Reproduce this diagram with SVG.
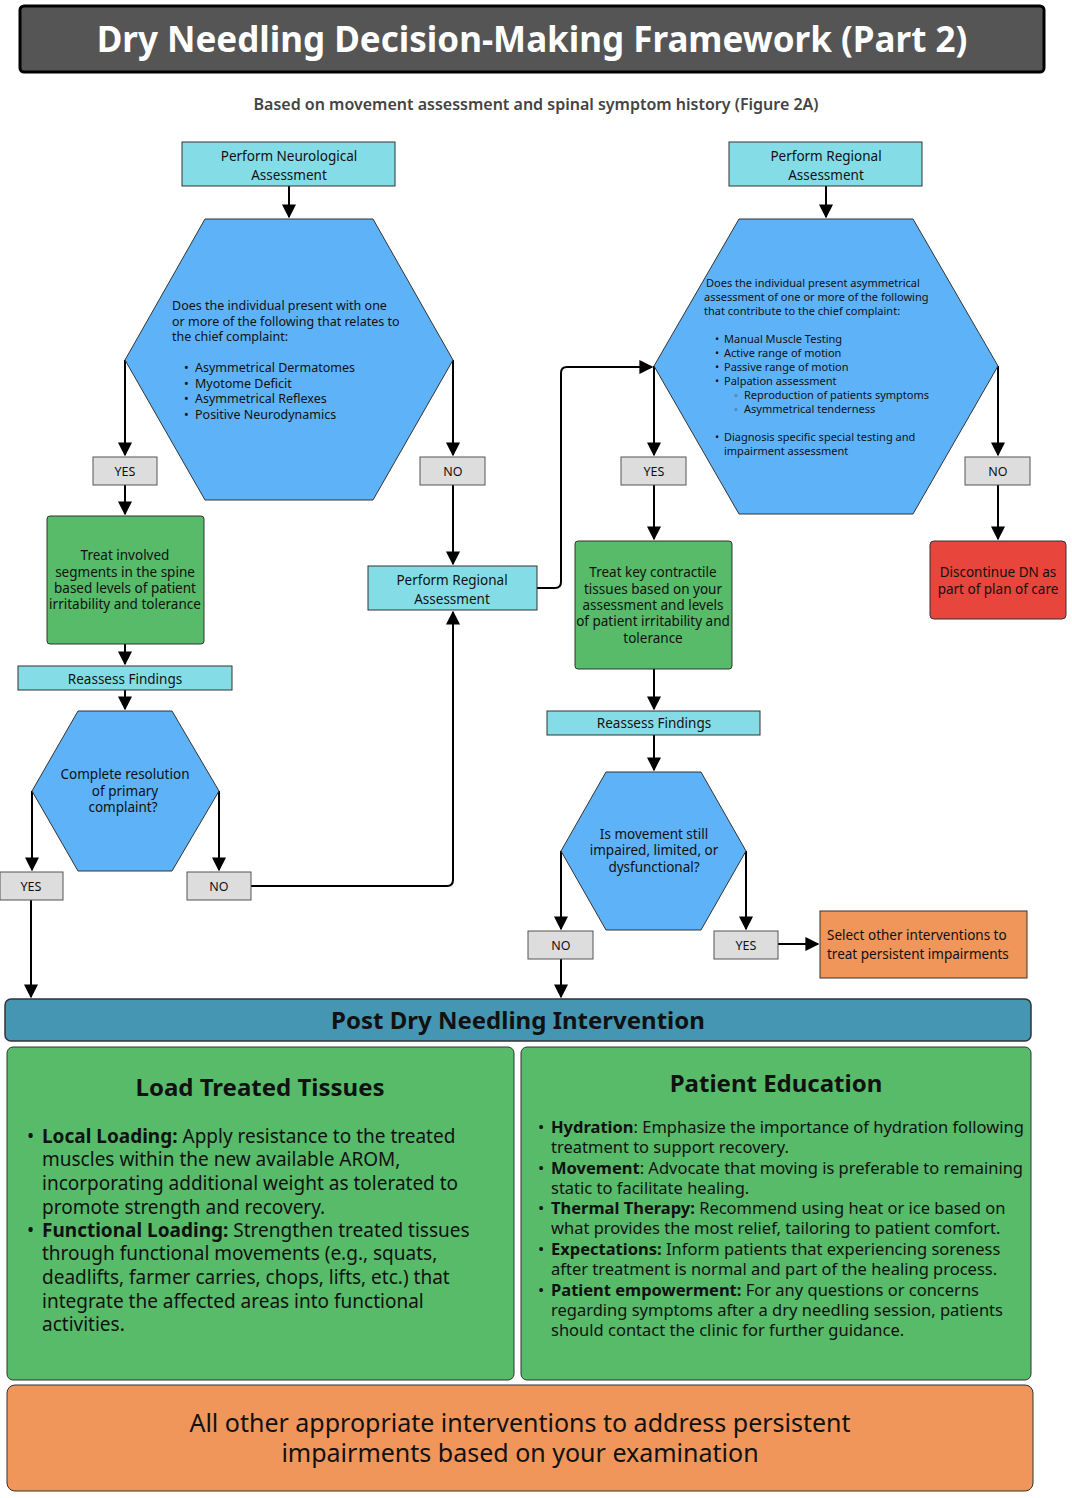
<svg xmlns="http://www.w3.org/2000/svg" width="1072" height="1498" viewBox="0 0 1072 1498">
<defs>
<marker id="ah" viewBox="0 0 10 10" refX="9" refY="5" markerWidth="7" markerHeight="7" orient="auto-start-reverse"><path d="M0,0 L10,5 L0,10 z" fill="#000"/></marker>
<style>
text{font-family:"Noto Sans","Liberation Sans",sans-serif;fill:#111}
.cy{fill:#84dde6;stroke:#333;stroke-width:1}
.hx{fill:#5eb3f8;stroke:#333;stroke-width:1}
.gr{fill:#57bb6a;stroke:#333;stroke-width:1}
.lb{fill:#dddddd;stroke:#555;stroke-width:1}
.c{stroke:#000;stroke-width:2;fill:none}
.a{marker-end:url(#ah)}
.s13{font-size:13.5px}
.s12{font-size:12.5px}
.s11{font-size:11px}
.m{text-anchor:middle}
</style>
</defs>
<rect x="0" y="0" width="1072" height="1498" fill="#fff"/>
<g id="title">
<rect x="20" y="6" width="1024" height="66" rx="4" fill="#555" stroke="#000" stroke-width="3"/>
<text x="532" y="52" class="m" style="font-size:35px;font-weight:bold;fill:#fff">Dry Needling Decision-Making Framework (Part 2)</text>
<text x="536" y="110" class="m" style="font-size:16px;font-weight:600;fill:#444">Based on movement assessment and spinal symptom history (Figure 2A)</text>
</g>
<g id="connectors">
<line class="c a" x1="289" y1="186" x2="289" y2="217"/>
<line class="c a" x1="125" y1="360" x2="125" y2="455"/>
<line class="c a" x1="453" y1="360" x2="453" y2="455"/>
<line class="c a" x1="125" y1="485" x2="125" y2="514"/>
<line class="c a" x1="125" y1="644" x2="125" y2="664"/>
<line class="c a" x1="125" y1="690" x2="125" y2="709"/>
<line class="c a" x1="32" y1="791" x2="32" y2="870"/>
<line class="c a" x1="219" y1="791" x2="219" y2="870"/>
<path class="c a" d="M251,886 H447 Q453,886 453,880 V612"/>
<line class="c a" x1="453" y1="485" x2="453" y2="564"/>
<path class="c a" d="M537,588 H555 Q561,588 561,582 V373 Q561,367 567,367 H652"/>
<line class="c a" x1="31" y1="900" x2="31" y2="997"/>
<line class="c a" x1="826" y1="186" x2="826" y2="217"/>
<line class="c a" x1="654" y1="366" x2="654" y2="455"/>
<line class="c a" x1="998" y1="366" x2="998" y2="455"/>
<line class="c a" x1="998" y1="485" x2="998" y2="539"/>
<line class="c a" x1="654" y1="485" x2="654" y2="539"/>
<line class="c a" x1="654" y1="669" x2="654" y2="709"/>
<line class="c a" x1="654" y1="735" x2="654" y2="770"/>
<line class="c a" x1="561" y1="851" x2="561" y2="929"/>
<line class="c a" x1="746" y1="851" x2="746" y2="929"/>
<line class="c a" x1="778" y1="944" x2="818" y2="944"/>
<line class="c a" x1="561" y1="959" x2="561" y2="997"/>
</g>
<g id="neuro"><rect class="cy" x="182" y="142" width="213" height="44"/><text class="s13 m" x="289" y="161">Perform Neurological</text><text class="s13 m" x="289" y="180">Assessment</text></g>
<g id="hexL"><polygon class="hx" points="205,219 373,219 453,360 373,500 205,500 125,360"/>
<text class="s12" x="172" y="310">Does the individual present with one</text>
<text class="s12" x="172" y="326">or more of the following that relates to</text>
<text class="s12" x="172" y="341">the chief complaint:</text>
<text class="s12" x="184" y="372">•</text><text class="s12" x="195" y="372">Asymmetrical Dermatomes</text>
<text class="s12" x="184" y="388">•</text><text class="s12" x="195" y="388">Myotome Deficit</text>
<text class="s12" x="184" y="403">•</text><text class="s12" x="195" y="403">Asymmetrical Reflexes</text>
<text class="s12" x="184" y="419">•</text><text class="s12" x="195" y="419">Positive Neurodynamics</text></g>
<g id="yes1"><rect class="lb" x="93" y="457" width="64" height="28"/><text class="s12 m" x="125" y="476">YES</text></g>
<g id="no1"><rect class="lb" x="420" y="457" width="65" height="28"/><text class="s12 m" x="453" y="476">NO</text></g>
<g id="treatSpine"><rect class="gr" x="47" y="516" width="157" height="128" rx="3"/>
<text class="s13 m" x="125" y="560">Treat involved</text><text class="s13 m" x="125" y="577">segments in the spine</text><text class="s13 m" x="125" y="593">based levels of patient</text><text class="s13 m" x="125" y="609">irritability and tolerance</text></g>
<g id="reassess1"><rect class="cy" x="18" y="666" width="214" height="24"/><text class="s13 m" x="125" y="684">Reassess Findings</text></g>
<g id="hexS"><polygon class="hx" points="78,711 172,711 219,791 172,871 78,871 32,791"/>
<text class="s13 m" x="125" y="779">Complete resolution</text><text class="s13 m" x="125" y="796">of primary</text><text class="s13 m" x="123" y="812">complaint?</text></g>
<g id="yes2"><rect class="lb" x="0" y="872" width="63" height="28"/><text class="s12 m" x="31" y="891">YES</text></g>
<g id="no2"><rect class="lb" x="187" y="872" width="64" height="28"/><text class="s12 m" x="219" y="891">NO</text></g>
<g id="regionalMid"><rect class="cy" x="368" y="566" width="169" height="44"/><text class="s13 m" x="452" y="585">Perform Regional</text><text class="s13 m" x="452" y="604">Assessment</text></g>
<g id="regionalTop"><rect class="cy" x="729" y="142" width="193" height="44"/><text class="s13 m" x="826" y="161">Perform Regional</text><text class="s13 m" x="826" y="180">Assessment</text></g>
<g id="hexR"><polygon class="hx" points="739,219 913,219 998,366 913,514 739,514 654,366"/>
<text class="s11" x="706" y="287">Does the individual present asymmetrical</text>
<text class="s11" x="704" y="301">assessment of one or more of the following</text>
<text class="s11" x="704" y="315">that contribute to the chief complaint:</text>
<text class="s11" x="715" y="343">•</text><text class="s11" x="724" y="343">Manual Muscle Testing</text>
<text class="s11" x="715" y="357">•</text><text class="s11" x="724" y="357">Active range of motion</text>
<text class="s11" x="715" y="371">•</text><text class="s11" x="724" y="371">Passive range of motion</text>
<text class="s11" x="715" y="385">•</text><text class="s11" x="724" y="385">Palpation assessment</text>
<text class="s11" x="734" y="399" style="fill:#444">◦</text><text class="s11" x="744" y="399">Reproduction of patients symptoms</text>
<text class="s11" x="734" y="413" style="fill:#444">◦</text><text class="s11" x="744" y="413">Asymmetrical tenderness</text>
<text class="s11" x="715" y="441">•</text><text class="s11" x="724" y="441">Diagnosis specific special testing and</text>
<text class="s11" x="724" y="455">impairment assessment</text></g>
<g id="yes3"><rect class="lb" x="621" y="457" width="65" height="28"/><text class="s12 m" x="654" y="476">YES</text></g>
<g id="no3"><rect class="lb" x="965" y="457" width="65" height="28"/><text class="s12 m" x="998" y="476">NO</text></g>
<g id="discontinue"><rect x="930" y="541" width="136" height="78" rx="4" fill="#e8453c" stroke="#333"/><text class="s13 m" x="998" y="577">Discontinue DN as</text><text class="s13 m" x="998" y="594">part of plan of care</text></g>
<g id="treatKey"><rect class="gr" x="575" y="541" width="157" height="128" rx="3"/>
<text class="s13 m" x="653" y="577">Treat key contractile</text><text class="s13 m" x="653" y="594">tissues based on your</text><text class="s13 m" x="653" y="610">assessment and levels</text><text class="s13 m" x="653" y="626">of patient irritability and</text><text class="s13 m" x="653" y="643">tolerance</text></g>
<g id="reassess2"><rect class="cy" x="547" y="711" width="213" height="24"/><text class="s13 m" x="654" y="728">Reassess Findings</text></g>
<g id="hexM"><polygon class="hx" points="606,772 701,772 746,851 701,930 606,930 561,851"/>
<text class="s13 m" x="654" y="839">Is movement still</text><text class="s13 m" x="654" y="855">impaired, limited, or</text><text class="s13 m" x="654" y="872">dysfunctional?</text></g>
<g id="no4"><rect class="lb" x="528" y="931" width="65" height="28"/><text class="s12 m" x="561" y="950">NO</text></g>
<g id="yes4"><rect class="lb" x="714" y="931" width="64" height="28"/><text class="s12 m" x="746" y="950">YES</text></g>
<g id="selectOther"><rect x="820" y="911" width="207" height="67" fill="#f0965a" stroke="#333"/><text class="s13" x="827" y="940">Select other interventions to</text><text class="s13" x="827" y="959">treat persistent impairments</text></g>
<g id="post"><rect x="5" y="999" width="1026" height="42" rx="6" fill="#4596b3" stroke="#333" stroke-width="1.5"/><text x="518" y="1029" class="m" style="font-size:24px;font-weight:bold">Post Dry Needling Intervention</text></g>
<g id="load" style="font-size:19px"><rect class="gr" x="7" y="1047" width="507" height="333" rx="6"/>
<text x="260" y="1096" class="m" style="font-size:24px;font-weight:bold">Load Treated Tissues</text>
<text x="27" y="1143">•</text><text x="42" y="1143"><tspan font-weight="bold">Local Loading:</tspan> Apply resistance to the treated</text>
<text x="42" y="1166">muscles within the new available AROM,</text>
<text x="42" y="1190">incorporating additional weight as tolerated to</text>
<text x="42" y="1214">promote strength and recovery.</text>
<text x="27" y="1237">•</text><text x="42" y="1237"><tspan font-weight="bold">Functional Loading:</tspan> Strengthen treated tissues</text>
<text x="42" y="1260">through functional movements (e.g., squats,</text>
<text x="42" y="1284">deadlifts, farmer carries, chops, lifts, etc.) that</text>
<text x="42" y="1308">integrate the affected areas into functional</text>
<text x="42" y="1331">activities.</text></g>
<g id="edu" style="font-size:16.5px"><rect class="gr" x="521" y="1047" width="510" height="333" rx="6"/>
<text x="776" y="1092" class="m" style="font-size:24px;font-weight:bold">Patient Education</text>
<text x="538" y="1133">•</text><text x="551" y="1133"><tspan font-weight="bold">Hydration</tspan>: Emphasize the importance of hydration following</text>
<text x="551" y="1153">treatment to support recovery.</text>
<text x="538" y="1174">•</text><text x="551" y="1174"><tspan font-weight="bold">Movement</tspan>: Advocate that moving is preferable to remaining</text>
<text x="551" y="1194">static to facilitate healing.</text>
<text x="538" y="1214">•</text><text x="551" y="1214"><tspan font-weight="bold">Thermal Therapy:</tspan> Recommend using heat or ice based on</text>
<text x="551" y="1234">what provides the most relief, tailoring to patient comfort.</text>
<text x="538" y="1255">•</text><text x="551" y="1255"><tspan font-weight="bold">Expectations:</tspan> Inform patients that experiencing soreness</text>
<text x="551" y="1275">after treatment is normal and part of the healing process.</text>
<text x="538" y="1296">•</text><text x="551" y="1296"><tspan font-weight="bold">Patient empowerment:</tspan> For any questions or concerns</text>
<text x="551" y="1316">regarding symptoms after a dry needling session, patients</text>
<text x="551" y="1336">should contact the clinic for further guidance.</text></g>
<g id="allOther"><rect x="7" y="1385" width="1026" height="106" rx="8" fill="#f0965a" stroke="#333"/>
<text x="520" y="1432" class="m" style="font-size:25px">All other appropriate interventions to address persistent</text>
<text x="520" y="1462" class="m" style="font-size:25px">impairments based on your examination</text></g>
</svg>
